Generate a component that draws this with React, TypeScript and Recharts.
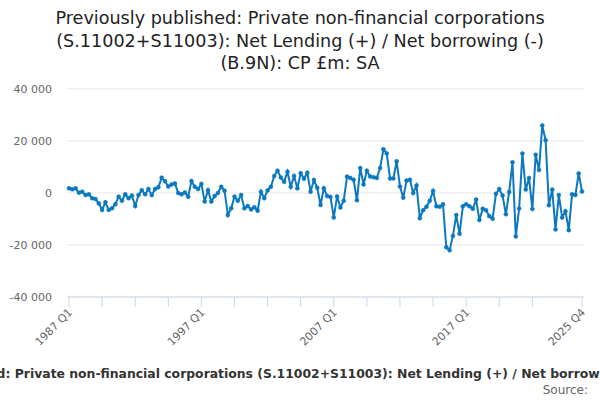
import React from 'react';
import { LineChart, Line, XAxis, YAxis, CartesianGrid } from 'recharts';

// quarters 1987 Q1 .. 2025 Q4
const years = Array.from({ length: 39 }, (_, i) => 1987 + i);
const quarterNames = ['Q1', 'Q2', 'Q3', 'Q4'];
const categories = years.flatMap((y) => quarterNames.map((q) => `${y} ${q}`));

// £m
const values1987to1996 = [
  1800, 1400, 1800, 100, 500, -800, -500, -2000, -2300, -4000,
  -6500, -3600, -6500, -5900, -4300, -1400, -3000, -500, -2000, -1000,
  -5000, -800, 1100, -500, 1500, -800, 1500, 2200, 5900, 4500,
  2500, 3300, 3700, 0, -500, 200, -1400, 4600, 2400, 1500,
];
const values1997to2006 = [
  3500, -3300, 1100, -3300, -1200, 0, 2400, 900, -8500, -5900,
  -1400, -3000, -800, -5900, -5000, -6300, -5500, -6800, 500, -2000,
  1000, 2400, 6500, 8600, 6000, 4300, 8200, 2400, 6500, 1800,
  7600, 5500, 7800, 500, 5000, 2000, -4600, 1800, -1200, -1500,
];
const values2007to2016 = [
  -9400, -1300, -5600, -3000, 6300, 5800, 5100, -2800, 9600, 3300,
  8600, 6300, 6100, 5800, 9600, 16800, 15200, 5600, 5600, 12200,
  2500, -1800, 4800, 5100, 0, 2900, -9700, -6600, -5300, -3000,
  800, -5100, -5300, -4300, -20900, -22000, -16500, -8500, -15700, -5100,
];
const values2017to2025 = [
  -4300, -5100, -6100, -2500, -10400, -6100, -6600, -8900, -9900, -300,
  1500, -1000, -8200, 400, 11800, -16700, -6000, 15200, 1300, 5800,
  -6200, 14700, 8800, 26000, 20300, -4700, 1300, -14000, -800, -9400,
  -7000, -14300, -500, -800, 7500, 600,
];

const yTicks = [-40000, -20000, 0, 20000, 40000];
const labelledQuarters = ['1987 Q1', '1997 Q1', '2007 Q1', '2017 Q1', '2025 Q4'];

const seriesName =
  'Previously published: Private non-financial corporations (S.11002+S11003): Net Lending (+) / Net borrowing (-) (B.9N): CP £m: SA';

const allValues = [...values1987to1996, ...values1997to2006, ...values2007to2016, ...values2017to2025];
const data = categories.map((q, i) => ({ quarter: q, value: allValues[i] }));

const FONT = '"DejaVu Sans", sans-serif';
const LINE_COLOR = '#0b78bf';

const fmt = (v: number) => {
  const s = Math.abs(v).toString().replace(/\B(?=(\d{3})+(?!\d))/g, ' ');
  return v < 0 ? `-${s}` : s;
};

const XTick = (props: any) => {
  const { x, y, payload } = props;
  const idx = categories.indexOf(payload.value);
  const last = categories.length - 1;
  const marked = (idx % 10 === 0 && idx < 150) || idx === last;
  if (!marked) return <g />;
  const showLabel = labelledQuarters.includes(payload.value);
  return (
    <g>
      <line x1={x} x2={x} y1={y} y2={y + 10} stroke="#ccd6eb" strokeWidth={1} />
      {showLabel && (
        <text
          x={x + 4}
          y={y + 16}
          textAnchor="end"
          fontSize={11}
          fontFamily={FONT}
          fill="#666666"
          transform={`rotate(-45 ${x + 4} ${y + 16})`}
        >
          {payload.value}
        </text>
      )}
    </g>
  );
};

export default function App() {
  return (
    <div style={{ position: 'absolute', left: 0, top: 0, width: 600, height: 400, background: '#fff', overflow: 'hidden' }}>
      <LineChart width={600} height={400} data={data} margin={{ top: 89, right: 16, bottom: 0, left: 0 }}>
        <CartesianGrid horizontal vertical={false} stroke="#e6e6e6" />
        <XAxis
          dataKey="quarter"
          interval={0}
          tick={<XTick />}
          tickLine={false}
          tickSize={0}
          tickMargin={0}
          height={103}
          padding={{ left: 2, right: 2 }}
          axisLine={{ stroke: '#ccd6eb' }}
        />
        <YAxis
          width={67}
          domain={[-40000, 40000]}
          ticks={yTicks}
          tickFormatter={fmt}
          axisLine={false}
          tickLine={false}
          tickMargin={9}
          tick={{ fontSize: 11, fill: '#666666', fontFamily: FONT }}
        />
        <Line
          type="linear"
          dataKey="value"
          stroke={LINE_COLOR}
          strokeWidth={2}
          dot={{ r: 2, fill: LINE_COLOR, stroke: LINE_COLOR, strokeWidth: 0.5 }}
          isAnimationActive={false}
        />
      </LineChart>
      <svg width={600} height={400} style={{ position: 'absolute', left: 0, top: 0, pointerEvents: 'none' }}>
        <g fontFamily={FONT} fill="#222222" fontSize={17.6} textAnchor="middle">
          <text x={300} y={24}>Previously published: Private non-financial corporations</text>
          <text x={300} y={47}>(S.11002+S11003): Net Lending (+) / Net borrowing (-)</text>
          <text x={300} y={69}>(B.9N): CP £m: SA</text>
        </g>
        <text x={316} y={378} textAnchor="middle" fontFamily={FONT} fontSize={12.4} fontWeight="bold" fill="#333333">
          {seriesName}
        </text>
        <text x={588} y={394} textAnchor="end" fontFamily={FONT} fontSize={12} fill="#666666">
          Source:
        </text>
      </svg>
    </div>
  );
}
